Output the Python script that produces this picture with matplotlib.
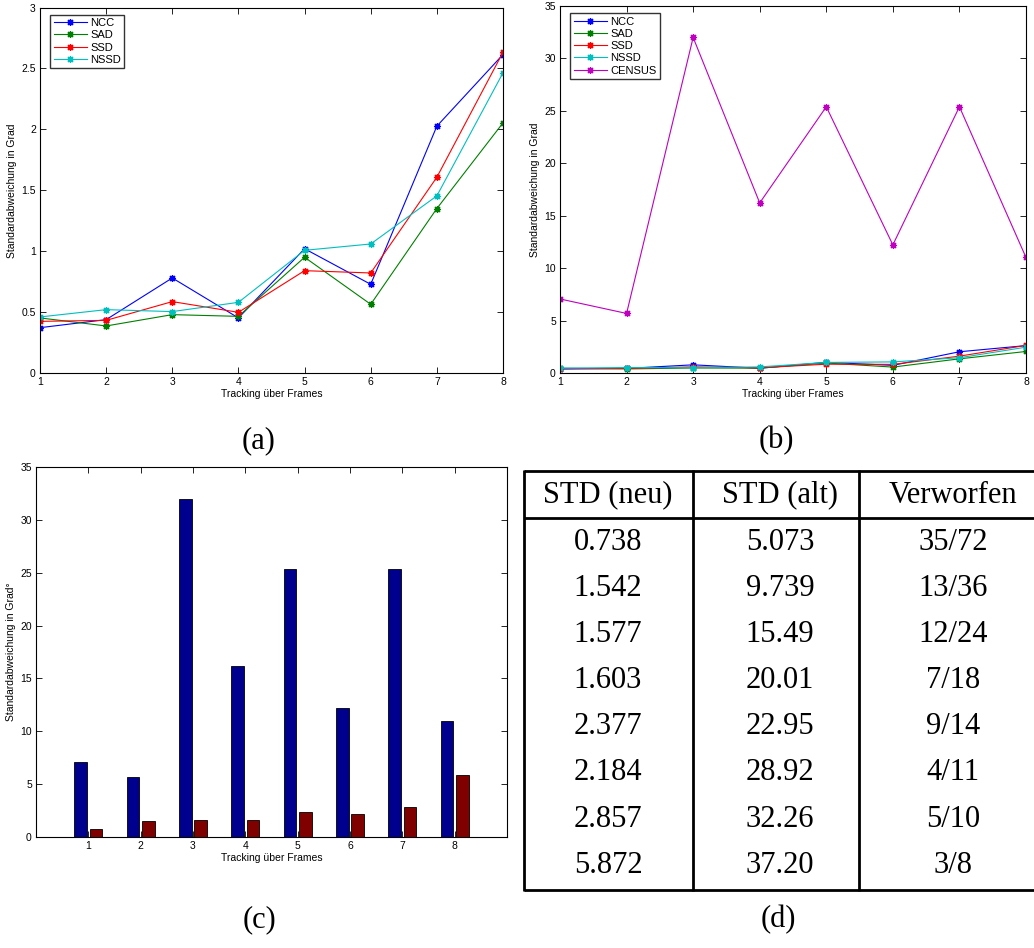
import matplotlib
matplotlib.use("Agg")
import matplotlib.pyplot as plt
from matplotlib.ticker import FuncFormatter
import numpy as np

plt.rcParams['font.family'] = ['Liberation Sans', 'DejaVu Sans']

frames = [1, 2, 3, 4, 5, 6, 7, 8]
ncc = [0.372, 0.438, 0.78, 0.452, 1.02, 0.728, 2.026, 2.614]
sad = [0.452, 0.386, 0.479, 0.465, 0.95, 0.564, 1.35, 2.053]
ssd = [0.424, 0.432, 0.586, 0.498, 0.84, 0.821, 1.607, 2.633]
nssd = [0.46, 0.52, 0.504, 0.58, 1.007, 1.059, 1.454, 2.464]
census = [7.06, 5.68, 32.0, 16.22, 25.39, 12.22, 25.39, 11.02]

std_neu = ["0.738", "1.542", "1.577", "1.603", "2.377", "2.184", "2.857", "5.872"]
std_alt = ["5.073", "9.739", "15.49", "20.01", "22.95", "28.92", "32.26", "37.20"]
verworfen = ["35/72", "13/36", "12/24", "7/18", "9/14", "4/11", "5/10", "3/8"]
table_header = ["STD (neu)", "STD (alt)", "Verworfen"]

series_names = ["NCC", "SAD", "SSD", "NSSD", "CENSUS"]
series_colors = ["#0000FF", "#008000", "#FF0000", "#00BFBF", "#BF00BF"]

W, H = 1034, 948
fig = plt.figure(figsize=(W / 100, H / 100), dpi=100)

def px_axes(l, t, r, b):
    return fig.add_axes([l / W, 1 - b / H, (r - l) / W, (b - t) / H])

fmt = FuncFormatter(lambda v, p: "%g" % v)
FS = 7.5
MK = dict(marker=(8, 2, 0), ms=5, mew=0.9)

def style(ax):
    ax.tick_params(direction='in', length=4, width=0.6, labelsize=FS,
                   top=True, right=True, pad=3)
    for s in ax.spines.values():
        s.set_linewidth(0.8)
    ax.yaxis.set_major_formatter(fmt)

# (a)
axa = px_axes(40, 7.5, 503, 373)
for name, vals, col in zip(series_names[:4], [ncc, sad, ssd, nssd], series_colors[:4]):
    axa.plot(frames, vals, '-', color=col, lw=0.8, label=name, **MK)
axa.set_xlim(1, 8)
axa.set_ylim(0, 3)
axa.set_xticks(frames)
axa.set_yticks(np.arange(0, 3.01, 0.5))
axa.set_xlabel("Tracking über Frames", fontsize=FS, labelpad=1)
axa.set_ylabel("Standardabweichung in Grad", fontsize=FS, labelpad=3)
style(axa)
leg = axa.legend(loc='upper left', fontsize=FS + 0.5, frameon=True, fancybox=False,
                 edgecolor='black', numpoints=1, handlelength=3.0,
                 labelspacing=0.2, borderpad=0.3, handletextpad=0.3,
                 bbox_to_anchor=(0.022, 0.98), borderaxespad=0)
leg.get_frame().set_linewidth(1.0)

# (b)
axb = px_axes(560, 6, 1026, 373)
for name, vals, col in zip(series_names, [ncc, sad, ssd, nssd, census], series_colors):
    axb.plot(frames, vals, '-', color=col, lw=0.8, label=name, **MK)
axb.set_xlim(1, 8)
axb.set_ylim(0, 35)
axb.set_xticks(frames)
axb.set_yticks(np.arange(0, 36, 5))
axb.set_xlabel("Tracking über Frames", fontsize=FS, labelpad=1)
axb.set_ylabel("Standardabweichung in Grad", fontsize=FS, labelpad=3)
style(axb)
leg = axb.legend(loc='upper left', fontsize=FS + 0.5, frameon=True, fancybox=False,
                 edgecolor='black', numpoints=1, handlelength=3.0,
                 labelspacing=0.2, borderpad=0.3, handletextpad=0.3,
                 bbox_to_anchor=(0.022, 0.98), borderaxespad=0)
leg.get_frame().set_linewidth(1.0)

# (c)
axc = px_axes(36, 467, 507, 837)
x = np.array(frames, dtype=float)
new_vals = [float(v) for v in std_neu]
axc.bar(x - 0.145, census, width=0.24, color='#00008F', edgecolor='black', linewidth=0.6)
axc.bar(x + 0.145, new_vals, width=0.24, color='#800000', edgecolor='black', linewidth=0.6)
axc.set_xlim(0, 9)
axc.set_ylim(0, 35)
axc.set_xticks(frames)
axc.set_yticks(np.arange(0, 36, 5))
axc.set_xlabel("Tracking über Frames", fontsize=FS, labelpad=1)
axc.set_ylabel("Standardabweichung in Grad°", fontsize=FS, labelpad=3)
style(axc)

# overlay for table and captions
ov = fig.add_axes([0, 0, 1, 1], zorder=-1)
ov.set_xlim(0, W)
ov.set_ylim(H, 0)
ov.axis('off')

serif = ['Liberation Serif', 'DejaVu Serif']
TFS = 22
for lbl, cx, cy in [("(a)", 259, 441), ("(b)", 776, 441), ("(c)", 259, 920), ("(d)", 778, 920)]:
    ov.text(cx, cy, lbl, ha='center', va='center', fontsize=TFS, family=serif)

lw = 2.0
for yy in [471, 518, 890]:
    ov.plot([524, W], [yy, yy], color='black', lw=lw, solid_capstyle='butt')
for xx in [524, 693, 859]:
    ov.plot([xx, xx], [470, 891], color='black', lw=lw, solid_capstyle='butt')

col_x = [608, 780, 953]
for cx, h in zip(col_x, table_header):
    ov.text(cx, 495, h, ha='center', va='center', fontsize=TFS, family=serif)
row_y0, row_dy = 542, 46.2
for i in range(len(std_neu)):
    cy = row_y0 + i * row_dy
    for cx, val in zip(col_x, [std_neu[i], std_alt[i], verworfen[i]]):
        ov.text(cx, cy, val, ha='center', va='center', fontsize=TFS, family=serif)

fig.savefig("out.png", dpi=100)
